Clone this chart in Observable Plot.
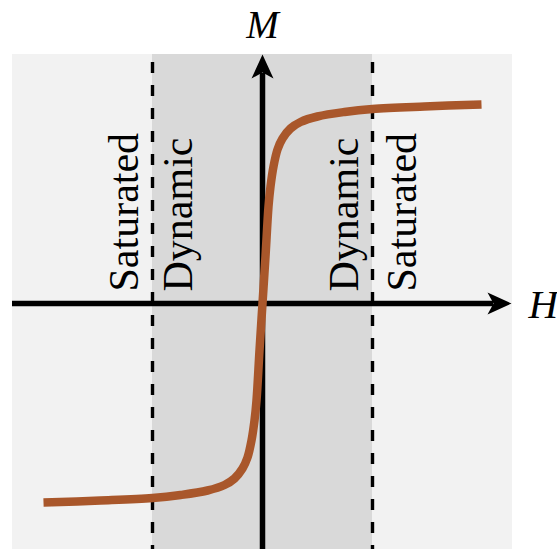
<!DOCTYPE html>
<html>
<head>
<meta charset="utf-8">
<script src="https://cdn.jsdelivr.net/npm/d3@7"></script>
<script src="https://cdn.jsdelivr.net/npm/@observablehq/plot@0.6"></script>
<style>
  html, body { margin: 0; padding: 0; background: #fff; }
  #chart svg { display: block; }
</style>
</head>
<body>
<div id="chart"></div>
<script>
// Magnetization curve M(H)
const H = [-2.19, -1.62, -1.10, -0.82, -0.55, -0.38, -0.28, -0.20, -0.15, -0.11, -0.08, -0.06, -0.03, 0,
           0.03, 0.06, 0.08, 0.11, 0.15, 0.20, 0.28, 0.38, 0.55, 0.82, 1.10, 1.62, 2.19];
const M = [-1.99, -1.97, -1.945, -1.915, -1.87, -1.815, -1.75, -1.65, -1.54, -1.37, -1.17, -0.97, -0.47, 0,
           0.47, 0.97, 1.17, 1.37, 1.54, 1.65, 1.75, 1.815, 1.87, 1.915, 1.945, 1.97, 1.99];

// Region boundaries (dynamic range limits) and plot extent
const dynamicLimits = [-1.1, 1.1];
const extentH = [-2.5, 2.5];
const extentM = [-2.5, 2.49];

// Region labels
const regionLabels = ["Saturated", "Dynamic", "Dynamic", "Saturated"];
const regionLabelH = [-1.25, -0.71, 0.95, 1.53];
const regionLabelM = 0.12;

const curve = H.map((h, i) => ({H: h, M: M[i]}));
const labels = regionLabels.map((t, i) => ({t, H: regionLabelH[i], M: regionLabelM}));

// stealth-like filled arrowhead, tip at origin, pointing up
const stealth = {
  draw(ctx) {
    ctx.moveTo(0, 0);
    ctx.lineTo(11, 24);
    ctx.lineTo(0, 18);
    ctx.lineTo(-11, 24);
    ctx.closePath();
  }
};

const font = "'Liberation Serif', 'Times New Roman', serif";

const chart = Plot.plot({
  width: 557,
  height: 549,
  margin: 0,
  style: {fontFamily: font, background: "#fff", overflow: "visible"},
  x: {domain: [-2.5, 2.5], range: [12, 512], axis: null},
  y: {domain: [-2.5, 2.5], range: [553, 53], axis: null},
  marks: [
    // light background
    Plot.rect([0], {x1: extentH[0], x2: extentH[1], y1: extentM[0] - 0.1, y2: extentM[1], fill: "#f2f2f2"}),
    // dynamic band
    Plot.rect([0], {x1: dynamicLimits[0], x2: dynamicLimits[1], y1: extentM[0] - 0.1, y2: extentM[1], fill: "#d9d9d9"}),
    // dashed boundaries
    Plot.ruleX(dynamicLimits, {x: d => d, y1: extentM[1], y2: extentM[0] - 0.1, stroke: "#000", strokeWidth: 3.4,
      strokeDasharray: "11,12", strokeDashoffset: 15}),
    // axes shafts
    Plot.ruleY([0], {x1: extentH[0], x2: extentH[1] - 0.19, stroke: "#000", strokeWidth: 5.5}),
    Plot.ruleX([0], {y1: extentM[0] - 0.1, y2: extentM[1] - 0.19, stroke: "#000", strokeWidth: 5.5}),
    // arrow heads
    Plot.dot([{x: extentH[1] - 0.01, y: 0, r: 90}, {x: 0, y: extentM[1], r: 0}], {
      x: "x", y: "y", rotate: "r", symbol: stealth, fill: "#000", stroke: "none", r: 10
    }),
    // curve
    Plot.line(curve, {x: "H", y: "M", stroke: "#a9572b", strokeWidth: 8.5, curve: "catmull-rom",
      strokeLinecap: "butt", strokeLinejoin: "round"}),
    // region labels
    Plot.text(labels, {x: "H", y: "M", text: "t", rotate: -90, textAnchor: "start", lineAnchor: "bottom",
      fontSize: 42, fill: "#000"}),
    // axis labels
    Plot.text(["M"], {x: 0, y: 2.66, text: d => d, fontSize: 39, fontStyle: "italic", lineAnchor: "bottom",
      textAnchor: "middle", fill: "#000"}),
    Plot.text(["H"], {x: 2.66, y: -0.14, text: d => d, fontSize: 41, fontStyle: "italic", lineAnchor: "bottom",
      textAnchor: "start", fill: "#000"})
  ]
});

document.getElementById("chart").appendChild(chart);
</script>
</body>
</html>
